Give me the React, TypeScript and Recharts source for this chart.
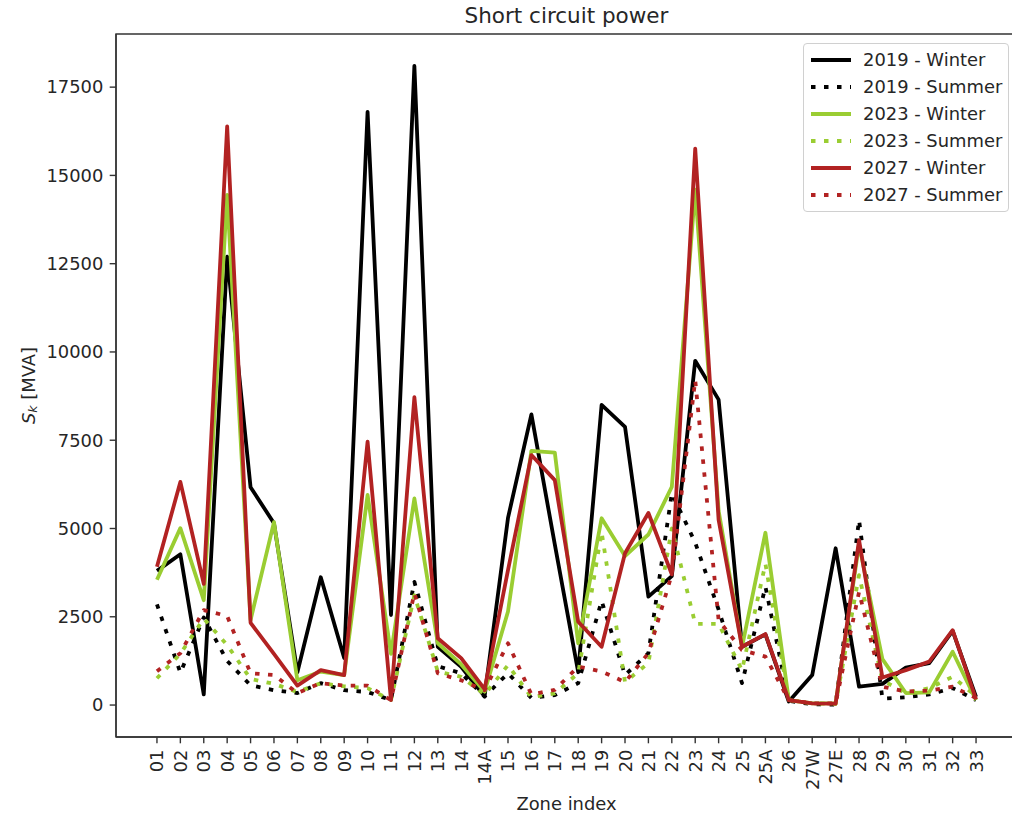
import React from 'react';
import { LineChart, Line, XAxis, YAxis, ReferenceArea, Legend, Label } from 'recharts';

const CATEGORIES = ['01','02','03','04','05','06','07','08','09','10','11','12','13','14','14A','15','16','17','18','19','20','21','22','23','24','25','25A','26','27W','27E','28','29','30','31','32','33'];

const WINTER_2019 = [3800,4270,300,12700,6170,5150,930,3620,1330,16800,2550,18100,1650,1080,250,5300,8230,4550,930,8500,7880,3070,3650,9750,8650,1650,2000,100,850,4440,520,600,1060,1190,2100,230];
const SUMMER_2019 = [2850,915,2480,1250,560,420,340,620,420,370,140,3490,1100,900,240,900,200,280,620,2950,850,1470,6000,4600,2700,620,3350,120,20,10,5240,180,220,300,480,140];
const WINTER_2023 = [3550,5010,2970,14450,2410,5180,700,950,850,5950,1450,5850,1750,1150,380,2650,7200,7150,1750,5290,4220,4830,6180,14600,5500,1650,4880,140,50,50,4550,1300,340,360,1510,140];
const SUMMER_2023 = [760,1450,2450,1700,740,600,370,620,530,480,140,3110,950,800,300,1130,220,330,900,4900,650,1190,5000,2300,2300,990,4000,140,50,30,3680,700,340,480,800,250];
const WINTER_2027 = [3920,6320,3430,16390,2330,1450,550,990,850,7460,140,8720,1890,1330,450,3820,7080,6370,2360,1650,4300,5440,3700,15760,5240,1650,2010,140,50,40,4670,780,990,1230,2120,160];
const SUMMER_2027 = [960,1470,2690,2520,900,850,340,620,550,550,140,3170,900,700,420,1750,300,430,1090,950,650,1470,3700,9200,2400,1560,1370,140,50,50,3200,520,380,410,520,200];

const Y_TICKS = [0, 2500, 5000, 7500, 10000, 12500, 15000, 17500];
const TITLE = 'Short circuit power';
const X_LABEL = 'Zone index';

const BLACK = '#000000';
const GREEN = '#9acd32';
const RED = '#b22222';
const DOT = '4.5 8.5';

const SERIES = [
  { key: 'w2019', name: '2019 - Winter', color: BLACK, dash: undefined as string | undefined, values: WINTER_2019 },
  { key: 's2019', name: '2019 - Summer', color: BLACK, dash: DOT, values: SUMMER_2019 },
  { key: 'w2023', name: '2023 - Winter', color: GREEN, dash: undefined as string | undefined, values: WINTER_2023 },
  { key: 's2023', name: '2023 - Summer', color: GREEN, dash: DOT, values: SUMMER_2023 },
  { key: 'w2027', name: '2027 - Winter', color: RED, dash: undefined as string | undefined, values: WINTER_2027 },
  { key: 's2027', name: '2027 - Summer', color: RED, dash: DOT, values: SUMMER_2027 },
];

const data = CATEGORIES.map((zone, i) => {
  const row: Record<string, number | string> = { i, zone };
  SERIES.forEach((s) => { row[s.key] = s.values[i]; });
  return row;
});
const X_TICKS = CATEGORIES.map((_, i) => i);

const FONT = '"DejaVu Sans", sans-serif';
const TEXT = '#262626';
const SPINE = '#333333';
const FS = 17.9;

const W = 1030;
const H = 819;
const PLOT_LEFT = 116;
const PLOT_TOP = 34;
const PLOT_RIGHT = 1017;
const PLOT_BOTTOM = 737;

const XTick = (props: any) => {
  const { x, y, payload } = props;
  return (
    <text
      x={x}
      y={y}
      transform={`rotate(-90 ${x} ${y})`}
      textAnchor="end"
      dominantBaseline="central"
      fontSize={FS}
      fontFamily={FONT}
      fill={TEXT}
    >
      {CATEGORIES[payload.value]}
    </text>
  );
};

const YTitle = () => {
  const cx = 28;
  const cy = (PLOT_TOP + PLOT_BOTTOM) / 2;
  return (
    <text
      x={cx}
      y={cy}
      transform={`rotate(-90 ${cx} ${cy})`}
      textAnchor="middle"
      dominantBaseline="central"
      fontSize={FS}
      fontFamily={FONT}
      fill={TEXT}
    >
      <tspan fontStyle="italic">S</tspan>
      <tspan fontStyle="italic" fontSize={FS * 0.7} dy={4}>k</tspan>
      <tspan dy={-4}> [MVA]</tspan>
    </text>
  );
};

const XTitle = () => (
  <text
    x={(PLOT_LEFT + PLOT_RIGHT) / 2}
    y={810}
    textAnchor="middle"
    fontSize={FS}
    fontFamily={FONT}
    fill={TEXT}
  >
    {X_LABEL}
  </text>
);

const ChartTitle = () => (
  <text
    x={(PLOT_LEFT + PLOT_RIGHT) / 2}
    y={PLOT_TOP - 10.7}
    textAnchor="middle"
    fontSize={21.5}
    fontFamily={FONT}
    fill={TEXT}
  >
    {TITLE}
  </text>
);

const LegendBox = () => (
  <div
    style={{
      border: '1px solid #d0d0d0',
      borderRadius: 4,
      background: 'rgba(255,255,255,0.85)',
      padding: '7px 8px 7px 7px',
      fontFamily: FONT,
      fontSize: FS,
      color: TEXT,
      boxSizing: 'border-box',
      width: 206,
    }}
  >
    {SERIES.map((s, i) => (
      <div
        key={s.key}
        style={{ display: 'flex', alignItems: 'center', height: 18, marginTop: i ? 9 : 0, whiteSpace: 'nowrap' }}
      >
        <svg width={40} height={18} style={{ display: 'block', flex: 'none' }}>
          <line x1={0} x2={40} y1={9} y2={9} stroke={s.color} strokeWidth={3.8} strokeDasharray={s.dash} />
        </svg>
        <span style={{ marginLeft: 12, lineHeight: '18px' }}>{s.name}</span>
      </div>
    ))}
  </div>
);

export default function App() {
  return (
    <div style={{ position: 'absolute', left: 0, top: 0, width: 1012, height: 819, overflow: 'hidden', background: '#fff' }}>
      <LineChart
        width={W}
        height={H}
        data={data}
        margin={{ top: PLOT_TOP, right: W - PLOT_RIGHT, bottom: 0, left: 0 }}
      >
        <XAxis
          dataKey="i"
          type="number"
          domain={[-1.75, 36.75]}
          ticks={X_TICKS}
          interval={0}
          allowDataOverflow
          height={H - PLOT_BOTTOM}
          tickSize={6.3}
          tickMargin={6.3}
          tick={<XTick />}
          axisLine={{ stroke: SPINE, strokeWidth: 1.4 }}
          tickLine={{ stroke: SPINE, strokeWidth: 1.4 }}
        >
          <Label content={<XTitle />} />
        </XAxis>
        <YAxis
          type="number"
          domain={[-905, 19005]}
          ticks={Y_TICKS}
          interval={0}
          allowDataOverflow
          width={PLOT_LEFT}
          tickSize={6.3}
          tickMargin={6.3}
          tick={{ fontSize: FS, fontFamily: FONT, fill: TEXT }}
          axisLine={{ stroke: SPINE, strokeWidth: 1.4 }}
          tickLine={{ stroke: SPINE, strokeWidth: 1.4 }}
        >
          <Label content={<YTitle />} />
        </YAxis>
        <ReferenceArea
          x1={-1.75}
          x2={36.75}
          y1={-905}
          y2={19005}
          fill="none"
          fillOpacity={0}
          stroke={SPINE}
          strokeWidth={1.4}
          ifOverflow="visible"
          label={<ChartTitle />}
        />
        {SERIES.map((s) => (
          <Line
            key={s.key}
            dataKey={s.key}
            name={s.name}
            type="linear"
            stroke={s.color}
            strokeWidth={3.8}
            strokeDasharray={s.dash}
            strokeLinejoin="round"
            dot={false}
            activeDot={false}
            isAnimationActive={false}
          />
        ))}
        <Legend
          layout="vertical"
          align="center"
          verticalAlign="middle"
          content={<LegendBox />}
          wrapperStyle={{ left: 803, top: 43, width: 206, height: 'auto' }}
        />
      </LineChart>
    </div>
  );
}
